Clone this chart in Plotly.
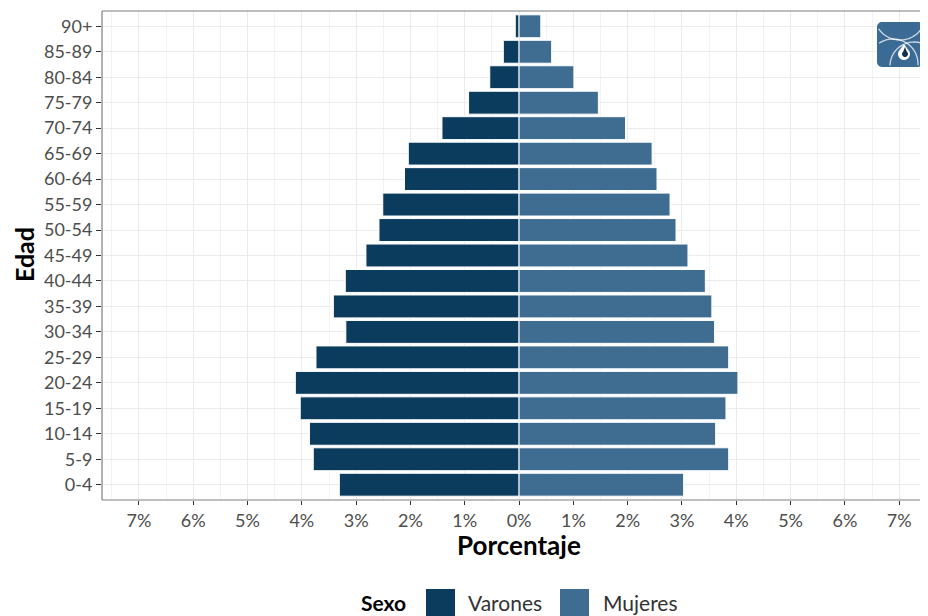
import numpy as np
import plotly.graph_objects as go

edades = ["0-4", "5-9", "10-14", "15-19", "20-24", "25-29", "30-34", "35-39",
          "40-44", "45-49", "50-54", "55-59", "60-64", "65-69", "70-74",
          "75-79", "80-84", "85-89", "90+"]
varones = [3.31, 3.79, 3.86, 4.03, 4.12, 3.74, 3.19, 3.42, 3.20, 2.82,
           2.58, 2.51, 2.11, 2.04, 1.42, 0.93, 0.54, 0.29, 0.07]
mujeres = [3.03, 3.86, 3.62, 3.81, 4.03, 3.86, 3.60, 3.55, 3.43, 3.11,
           2.89, 2.78, 2.54, 2.45, 1.96, 1.46, 1.01, 0.60, 0.40]
tick_vals = [-7, -6, -5, -4, -3, -2, -1, 0, 1, 2, 3, 4, 5, 6, 7]
tick_text = ["7%", "6%", "5%", "4%", "3%", "2%", "1%", "0%", "1%", "2%",
             "3%", "4%", "5%", "6%", "7%"]

C_VAR = "#0b3b5d"
C_MUJ = "#3f6d92"
FONT = "Lato"

# page has an 8px body margin: figure is 920x608 and placed at (8, 8)
OFF = 8
W, H = 920, 608
L, R, T, B = 94, 0, 3, 116
PW, PH = W - L - R, H - T - B


def px(x):  # screen pixel -> paper
    return (x - OFF - L) / PW


def py(y):
    return (H - B - (y - OFF)) / PH


fig = go.Figure()
fig.add_trace(go.Bar(y=edades, x=[-v for v in varones], orientation="h",
                     name="Varones", marker=dict(color=C_VAR, line=dict(color="white", width=1)),
                     width=0.9))
fig.add_trace(go.Bar(y=edades, x=mujeres, orientation="h",
                     name="Mujeres", marker=dict(color=C_MUJ, line=dict(color="white", width=1)),
                     width=0.9))

grid = "#ebebeb"
fig.update_layout(
    width=W, height=H, barmode="relative", bargap=0.1,
    margin=dict(l=L, r=R, t=T, b=B, autoexpand=False),
    paper_bgcolor="white", plot_bgcolor="white",
    showlegend=False,
    font=dict(family=FONT, size=18, color="#4d4d4d"),
)
fig.update_xaxes(range=[-7.68, 7.53], tickvals=tick_vals, ticktext=tick_text,
                 showgrid=True, gridcolor=grid, gridwidth=1,
                 minor=dict(dtick=0.5, tick0=0, showgrid=True, gridcolor="#f3f3f3", gridwidth=1),
                 zeroline=False, ticks="outside", ticklen=4, tickcolor="#333333",
                 tickfont=dict(size=18, color="#4d4d4d"), showline=False, automargin=False)
fig.update_yaxes(categoryorder="array", categoryarray=edades, range=[-0.6, 18.6],
                 showgrid=True, gridcolor=grid, gridwidth=1, zeroline=False,
                 ticks="outside", ticklen=5, tickcolor="#333333",
                 tickfont=dict(size=18, color="#4d4d4d"), showline=False, automargin=False)

# panel border (right edge lies outside the image)
border = "#7f7f7f"
fig.add_shape(type="line", xref="paper", yref="paper", x0=0, x1=1.01, y0=0, y1=0,
              line=dict(color=border, width=1.2))
fig.add_shape(type="line", xref="paper", yref="paper", x0=0, x1=1.01, y0=1, y1=1,
              line=dict(color=border, width=1.2))
fig.add_shape(type="line", xref="paper", yref="paper", x0=0, x1=0, y0=0, y1=1,
              line=dict(color=border, width=1.2))

# axis titles
fig.add_annotation(text="<b>Porcentaje</b>", xref="paper", yref="paper",
                   x=px(519), y=py(545), xanchor="center", yanchor="middle",
                   showarrow=False, font=dict(family=FONT, size=26, color="black"))
fig.add_annotation(text="<b>Edad</b>", xref="paper", yref="paper",
                   x=px(24), y=py(255), xanchor="center", yanchor="middle",
                   showarrow=False, textangle=-90, borderpad=0,
                   font=dict(family=FONT, size=25, color="black"))

# legend
fig.add_annotation(text="<b>Sexo</b>", xref="paper", yref="paper",
                   x=px(407), y=py(602), xanchor="right", yanchor="middle", showarrow=False,
                   borderpad=0, font=dict(family=FONT, size=21, color="black"))
for x0, col, lab, tx in [(426, C_VAR, "Varones", 467), (560, C_MUJ, "Mujeres", 602)]:
    fig.add_shape(type="rect", xref="paper", yref="paper",
                  x0=px(x0), x1=px(x0 + 29), y0=py(589), y1=py(618),
                  fillcolor=col, line=dict(width=0))
    fig.add_annotation(text=lab, xref="paper", yref="paper",
                       x=px(tx), y=py(602), xanchor="left", yanchor="middle", showarrow=False,
                       borderpad=0, font=dict(family=FONT, size=21, color="#333333"))

# logo
lx0, lx1, ly0, ly1, rr = 877, 923, 22, 67, 5


def ppath(pts, close=False):
    s = "M " + " L ".join(f"{px(a):.5f},{py(b):.5f}" for a, b in pts)
    return s + (" Z" if close else "")


th = np.linspace(0, np.pi / 2, 8)
corner = []
for cx, cy, a0 in [(lx1 - rr, ly0 + rr, -np.pi / 2), (lx1 - rr, ly1 - rr, 0),
                   (lx0 + rr, ly1 - rr, np.pi / 2), (lx0 + rr, ly0 + rr, np.pi)]:
    for t in th:
        corner.append((cx + rr * np.cos(a0 + t), cy + rr * np.sin(a0 + t)))
fig.add_shape(type="path", xref="paper", yref="paper", path=ppath(corner, True),
              fillcolor="#3b6b95", line=dict(width=0))


def arc(cx, cy, r):
    pts = []
    segs = []
    for t in np.linspace(0, 2 * np.pi, 120):
        x, y = cx + r * np.cos(t), cy + r * np.sin(t)
        if lx0 + 1.5 < x < lx1 - 1.5 and ly0 + 1.5 < y < ly1 - 1.5:
            pts.append((x, y))
        else:
            if len(pts) > 1:
                segs.append(pts)
            pts = []
    if len(pts) > 1:
        segs.append(pts)
    return segs


for cx, cy, r in [(893, 64, 25), (914, 66, 24), (900, 14, 26)]:
    for seg in arc(cx, cy, r):
        fig.add_shape(type="path", xref="paper", yref="paper", path=ppath(seg),
                      line=dict(color="rgba(255,255,255,0.75)", width=1.3))

drop = [(904, 44)] + [(904 + 6 * np.cos(t), 54 + 6 * np.sin(t)) for t in np.linspace(-0.9, np.pi + 0.9, 20)]
fig.add_shape(type="path", xref="paper", yref="paper", path=ppath(drop, True),
              fillcolor="white", line=dict(width=0))
drop2 = [(905, 47)] + [(905 + 3 * np.cos(t), 54 + 3 * np.sin(t)) for t in np.linspace(-0.9, np.pi + 0.9, 14)]
fig.add_shape(type="path", xref="paper", yref="paper", path=ppath(drop2, True),
              fillcolor="#10324f", line=dict(width=0))

fig.write_html("out.html")
